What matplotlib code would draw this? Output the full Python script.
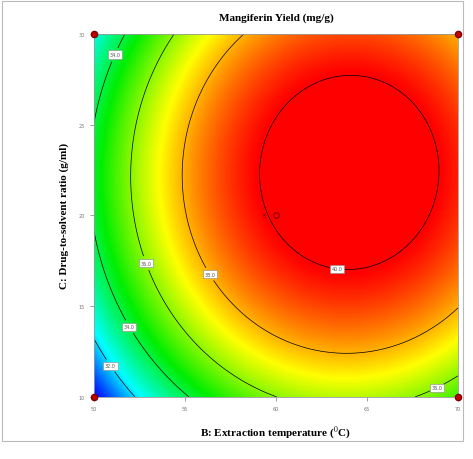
import numpy as np
import matplotlib
matplotlib.use("Agg")
import matplotlib.pyplot as plt
from matplotlib.colors import LinearSegmentedColormap

plt.rcParams["mathtext.fontset"] = "stix"

# Axis ranges and ticks
temp_range = [50, 70]          # B: extraction temperature
ratio_range = [10, 30]         # C: drug-to-solvent ratio
temp_ticks = [50, 55, 60, 65, 70]
ratio_ticks = [10, 15, 20, 25, 30]

# Quadratic model in coded units (B, C from -1 to 1)
coef_names = ["b0", "B", "C", "BB", "CC", "BC"]
coef_values = [40.12, 2.66, 1.30, -3.33, -2.83, 0.10]

# Contour levels shown on the plot
contour_levels = [32, 34, 36, 38, 40]
label_positions = [(51.6, 12.2), (52.5, 14.2), (50.6, 29.1), (53.2, 17.5),
                   (68.8, 10.6), (56.9, 17.1), (63.4, 17.5)]

# Design points (corners) and centre point with replicate count
design_temp = [50, 70, 50, 70]
design_ratio = [10, 10, 30, 30]
centre_point = (60, 20)
centre_reps = "5"


def yield_model(t, r):
    X = (t - 60.0) / 10.0
    Y = (r - 20.0) / 10.0
    c = dict(zip(coef_names, coef_values))
    return (c["b0"] + c["B"] * X + c["C"] * Y + c["BB"] * X ** 2
            + c["CC"] * Y ** 2 + c["BC"] * X * Y)


# Design-Expert style colour ramp
de_cmap = LinearSegmentedColormap.from_list(
    "de", [(0.0, "#0000ff"), (0.07, "#0050ff"), (0.2, "#00ffff"), (0.42, "#00ee00"),
           (0.66, "#ffff00"), (0.92, "#ff0000"), (1.0, "#ff0000")])

t = np.linspace(temp_range[0], temp_range[1], 400)
r = np.linspace(ratio_range[0], ratio_range[1], 400)
T, R = np.meshgrid(t, r)
Z = yield_model(T, R)

fig = plt.figure(figsize=(4.73, 4.60), dpi=100)
ax = fig.add_axes([0.199, 0.135, 0.769, 0.789])

ax.imshow(Z, extent=[temp_range[0], temp_range[1], ratio_range[0], ratio_range[1]],
          origin="lower", cmap=de_cmap, aspect="auto", interpolation="bilinear")
cs = ax.contour(T, R, Z, levels=contour_levels, colors="black", linewidths=0.5)
labels = ax.clabel(cs, fmt="%.1f", fontsize=3.5, inline=True, inline_spacing=2,
                   manual=label_positions)
for lab in labels:
    lab.set_rotation(0)
    lab.set_bbox(dict(facecolor="white", edgecolor="#888888", linewidth=0.4, pad=1.2))
    lab.set_color("#555555")

# Design points
ax.scatter(design_temp, design_ratio, s=20, color="#c00000", edgecolor="#800000",
           zorder=5, clip_on=False)
ax.plot(centre_point[0], centre_point[1], "o", markersize=4, markerfacecolor="none",
        markeredgecolor="#800000", markeredgewidth=0.8, zorder=5)
ax.text(centre_point[0] - 0.55, centre_point[1], centre_reps, fontsize=4,
        ha="right", va="center", color="#600000")

ax.set_xlim(temp_range)
ax.set_ylim(ratio_range)
ax.set_xticks(temp_ticks)
ax.set_yticks(ratio_ticks)
ax.tick_params(labelsize=3.5, labelcolor="#777777", length=3, width=0.5, color="#777777")
for s in ax.spines.values():
    s.set_color("#999999")
    s.set_linewidth(0.6)

ax.set_title("Mangiferin Yield (mg/g)", fontsize=8, fontweight="bold",
             family="Liberation Serif", pad=10)
ax.set_xlabel("B: Extraction temperature ($^0$C)", fontsize=8, fontweight="bold",
              family="Liberation Serif", labelpad=9)
ax.set_ylabel("C: Drug-to-solvent ratio (g/ml)", fontsize=8, fontweight="bold",
              family="Liberation Serif", labelpad=7)

# light frame around the whole picture
fig.patches.append(plt.Rectangle((0.005, 0.04), 0.973, 0.955, transform=fig.transFigure,
                                 fill=False, edgecolor="#bbbbbb", linewidth=0.8))

fig.savefig("out.png", dpi=100)
